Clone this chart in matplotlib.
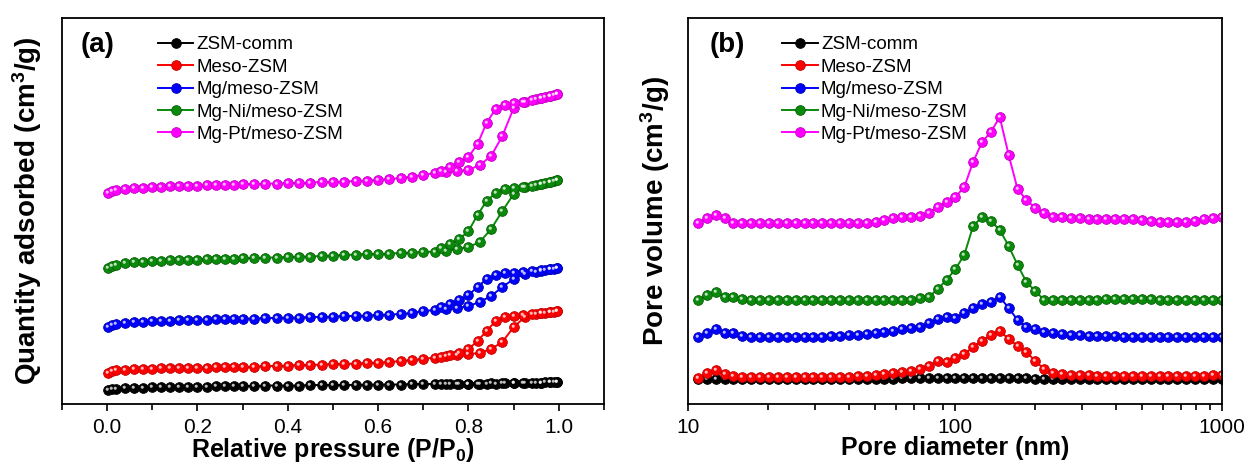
import matplotlib
matplotlib.use("Agg")
import matplotlib.pyplot as plt
from matplotlib.markers import MarkerStyle
from matplotlib.transforms import Affine2D
from matplotlib.ticker import MultipleLocator, NullLocator, NullFormatter, FixedLocator

plt.rcParams['font.family'] = ['Liberation Sans', 'DejaVu Sans']
plt.rcParams['mathtext.default'] = 'regular'

labels = ['ZSM-comm', 'Meso-ZSM', 'Mg/meso-ZSM', 'Mg-Ni/meso-ZSM', 'Mg-Pt/meso-ZSM']
colors = ['#000000', '#ff0000', '#0000ff', '#0a8a0a', '#ff00ff']
edges = ['#000000', '#c00000', '#0000b0', '#056005', '#c000c0']

# (a) N2 isotherms, offset stacked (arbitrary units)
ads_p = [0.003, 0.01, 0.02, 0.04, 0.06, 0.08, 0.10, 0.12, 0.14, 0.16, 0.18, 0.20, 0.22, 0.24, 0.26, 0.28, 0.30,
         0.325, 0.35, 0.375, 0.40, 0.425, 0.45, 0.475, 0.50, 0.525, 0.55, 0.575, 0.60, 0.625, 0.65, 0.675,
         0.70, 0.725, 0.75, 0.775, 0.80, 0.825, 0.85, 0.875, 0.90, 0.925, 0.95,
         0.96, 0.97, 0.98, 0.99, 0.995]
des_p = [0.995, 0.98, 0.96, 0.94, 0.92, 0.90, 0.88, 0.86, 0.84, 0.82, 0.80, 0.78, 0.76, 0.74]

ads_comm = [16, 17, 17.5, 18, 18.5, 18.5, 19, 19, 19, 19.5, 19.5, 19.5, 19.5, 20, 20, 20, 20,
            20, 20.5, 20.5, 20.5, 20.5, 21, 21, 21, 21, 21, 21.5, 21.5, 21.5, 21.5, 22, 22, 22, 22, 22.5,
            22.5, 22.5, 23, 23, 23, 23, 23.5,
            23.5, 24, 24, 24, 24.5]
des_comm = [24.5, 24, 23.5, 23.5, 23, 23, 23, 22.5, 22.5, 22.5, 22, 22, 22, 22]

ads_meso = [33, 35, 36, 36.5, 37, 37.5, 37.5, 38, 38, 38, 38.5, 38.5, 38.5, 39, 39, 39, 39,
            39.5, 40, 40, 40.5, 41, 41, 41.5, 42, 42, 42.5, 43, 43.5, 44, 45, 46, 47, 48.5, 50, 51,
            52, 53, 57, 64, 79, 89, 92,
            93, 93.5, 94, 94.5, 95]
des_meso = [95, 94, 93, 92, 91, 90, 89, 85, 75, 65, 57, 53, 51, 49]

ads_mg = [79, 81, 82.5, 83.5, 84, 84.5, 85, 85.5, 85.5, 86, 86, 86.5, 86.5, 87, 87, 87, 87.5,
          87.5, 88, 88, 88.5, 88.5, 89, 89, 89.5, 90, 90, 90.5, 91, 91.5, 92, 93, 95, 96, 97, 98,
          100, 104, 110, 119, 127, 132, 134,
          135, 136, 137, 137.5, 138]
des_mg = [138, 137, 136, 135, 134, 133.5, 133, 131, 127, 119, 111, 106, 102, 99]

ads_ni = [138, 140, 141.5, 143, 144, 144.5, 145, 145.5, 146, 146, 146.5, 146.5, 147, 147, 147.5, 147.5, 148,
          148, 148.5, 148.5, 149, 149.5, 149.5, 150, 150.5, 151, 151.5, 152, 152, 152.5, 153, 153.5, 154,
          154.5, 155, 157, 159, 164, 177, 195, 212, 219, 221,
          222, 223, 224, 225, 226]
des_ni = [226, 224, 222, 220, 219, 218, 217, 213, 205, 191, 175, 167, 162, 158]

ads_pt = [213, 215, 216, 217, 218, 218.5, 219, 219.5, 220, 220, 220.5, 220.5, 221, 221, 221.5, 221.5, 222,
          222, 222.5, 222.5, 223, 223, 223.5, 224, 224, 224.5, 225, 225.5, 226, 227, 228, 229.5, 231,
          233, 234, 235, 236, 241, 250, 270, 298, 304, 307,
          308, 309, 310, 311, 312]
des_pt = [312, 310, 308, 306, 304, 303, 301.5, 297, 283, 262, 249, 244, 239, 235]

# (b) pore size distribution, offset stacked (arbitrary units)
diam = [10.90, 11.77, 12.71, 13.72, 14.81, 15.98, 17.26, 18.63, 20.11, 21.71,
        23.44, 25.31, 27.33, 29.50, 31.84, 34.38, 37.11, 40.06, 43.26, 46.70,
        50.42, 54.42, 58.76, 63.43, 68.48, 73.92, 79.81, 86.15, 93.02, 100.4,
        108.4, 117.0, 126.3, 136.4, 147.2, 159.0, 171.6, 185.3, 200.0, 215.9,
        233.1, 251.7, 271.7, 293.3, 316.7, 341.9, 369.1, 398.5, 430.2, 464.5,
        501.4, 541.3, 584.4, 630.9, 681.1, 735.4, 793.8, 857.0, 925.2, 998.8]

psd_comm = [27, 27, 27, 27, 27, 27, 27, 27, 27, 27,
            27, 27, 27, 27, 27, 27, 27, 27, 27, 27,
            27, 27, 27, 28, 28, 28, 28, 28, 28, 28,
            28, 28, 28, 28, 28, 28, 28, 28, 27, 27,
            27, 27, 27, 27, 27, 27, 27, 27, 27, 27,
            27, 27, 27, 27, 27, 27, 27, 27, 27, 27]
psd_meso = [28, 33, 36, 32, 30, 29, 29, 29, 29, 29,
            29, 29, 29, 29, 29, 29, 29, 29, 30, 30,
            31, 32, 33, 34, 35, 37, 40, 45, 44, 48,
            52, 59, 65, 71, 75, 67, 60, 54, 45, 37,
            33, 32, 31, 31, 31, 30, 30, 30, 30, 30,
            30, 30, 30, 30, 30, 30, 30, 30, 31, 31]
psd_mg = [69, 73, 77, 73, 73, 70, 69, 69, 69, 69,
          69, 69, 69, 69, 69, 70, 70, 71, 71, 72,
          73, 74, 75, 77, 78, 79, 83, 87, 89, 88,
          93, 98, 102, 104, 109, 98, 86, 79, 77, 74,
          73, 72, 71, 71, 70, 70, 70, 70, 69, 69,
          69, 69, 69, 69, 69, 69, 69, 69, 69, 69]
psd_ni = [106, 111, 114, 109, 109, 107, 106, 106, 106, 106,
          106, 106, 106, 106, 106, 106, 106, 106, 106, 106,
          106, 106, 106, 106, 106, 108, 109, 117, 126, 137,
          151, 180, 189, 185, 176, 160, 141, 124, 115, 106,
          106, 106, 106, 106, 106, 106, 107, 107, 107, 107,
          107, 107, 106, 106, 106, 106, 106, 106, 106, 106]
psd_pt = [183, 188, 191, 188, 183, 183, 183, 183, 183, 183,
          183, 183, 183, 183, 183, 183, 183, 183, 183, 183,
          184, 186, 188, 189, 189, 190, 193, 199, 204, 209,
          219, 244, 264, 274, 289, 251, 217, 206, 198, 193,
          189, 189, 188, 188, 187, 187, 187, 187, 187, 187,
          186, 185, 184, 184, 184, 184, 185, 187, 188, 189]

iso = [(ads_comm, des_comm), (ads_meso, des_meso), (ads_mg, des_mg), (ads_ni, des_ni), (ads_pt, des_pt)]
psd = [psd_comm, psd_meso, psd_mg, psd_ni, psd_pt]

shine = MarkerStyle('o', transform=Affine2D().scale(0.32).translate(-0.13, 0.13))


def balls(ax, x, y, c, ec, label):
    ax.plot(x, y, '-', color=c, lw=1.4, marker='o', ms=7, mfc=c, mec=ec, mew=0.6, label=label)
    ax.plot(x, y, ls='none', marker=shine, ms=7, mfc='white', mec='none', alpha=0.75)


fig = plt.figure(figsize=(12.49, 4.70), dpi=100)
ax1 = fig.add_axes([0.0496, 0.1404, 0.434, 0.8213])
ax2 = fig.add_axes([0.5508, 0.1404, 0.4275, 0.8213])

for (a, d), c, ec, lab in zip(iso, colors, edges, labels):
    balls(ax1, ads_p + des_p, a + d, c, ec, lab)

for y, c, ec, lab in zip(psd, colors, edges, labels):
    balls(ax2, diam, y, c, ec, lab)

ax1.set_xlim(-0.1, 1.1)
ax1.xaxis.set_major_locator(FixedLocator([0.0, 0.2, 0.4, 0.6, 0.8, 1.0]))
ax1.xaxis.set_minor_locator(MultipleLocator(0.1))
ax1.set_xlabel('Relative pressure (P/P$_0$)', fontsize=18, fontweight='bold')
ax1.set_ylabel('Quantity adsorbed (cm$^3$/g)', fontsize=20, fontweight='bold')
ax1.text(0.035, 0.93, '(a)', transform=ax1.transAxes, fontsize=20, fontweight='bold', va='center')

ax2.set_xscale('log')
ax2.set_xlim(10, 1000)
ax2.set_xticks([10, 100, 1000])
ax2.set_xticklabels(['10', '100', '1000'])
ax2.xaxis.set_minor_formatter(NullFormatter())
ax2.set_xlabel('Pore diameter (nm)', fontsize=18, fontweight='bold')
ax2.set_ylabel('Pore volume (cm$^3$/g)', fontsize=20, fontweight='bold')
ax2.text(0.04, 0.93, '(b)', transform=ax2.transAxes, fontsize=20, fontweight='bold', va='center')

for ax, lx in ((ax1, -0.034), (ax2, -0.03)):
    ax.set_ylim(2, 388)
    ax.yaxis.set_major_locator(NullLocator())
    ax.yaxis.set_minor_locator(NullLocator())
    ax.tick_params(axis='x', which='major', direction='out', length=5, width=1.2, labelsize=15, pad=5)
    ax.tick_params(axis='x', which='minor', direction='out', length=4, width=1.2)
    for s in ax.spines.values():
        s.set_linewidth(1.3)
    ax.yaxis.set_label_coords(lx, 0.5)
    ax.xaxis.set_label_coords(0.5, -0.083)
    ax.legend(loc='upper left', bbox_to_anchor=(0.163, 0.972), frameon=False, fontsize=13.5,
              handlelength=1.9, handletextpad=0.15, labelspacing=0.28, borderaxespad=0)

fig.savefig('out.png', dpi=100)
